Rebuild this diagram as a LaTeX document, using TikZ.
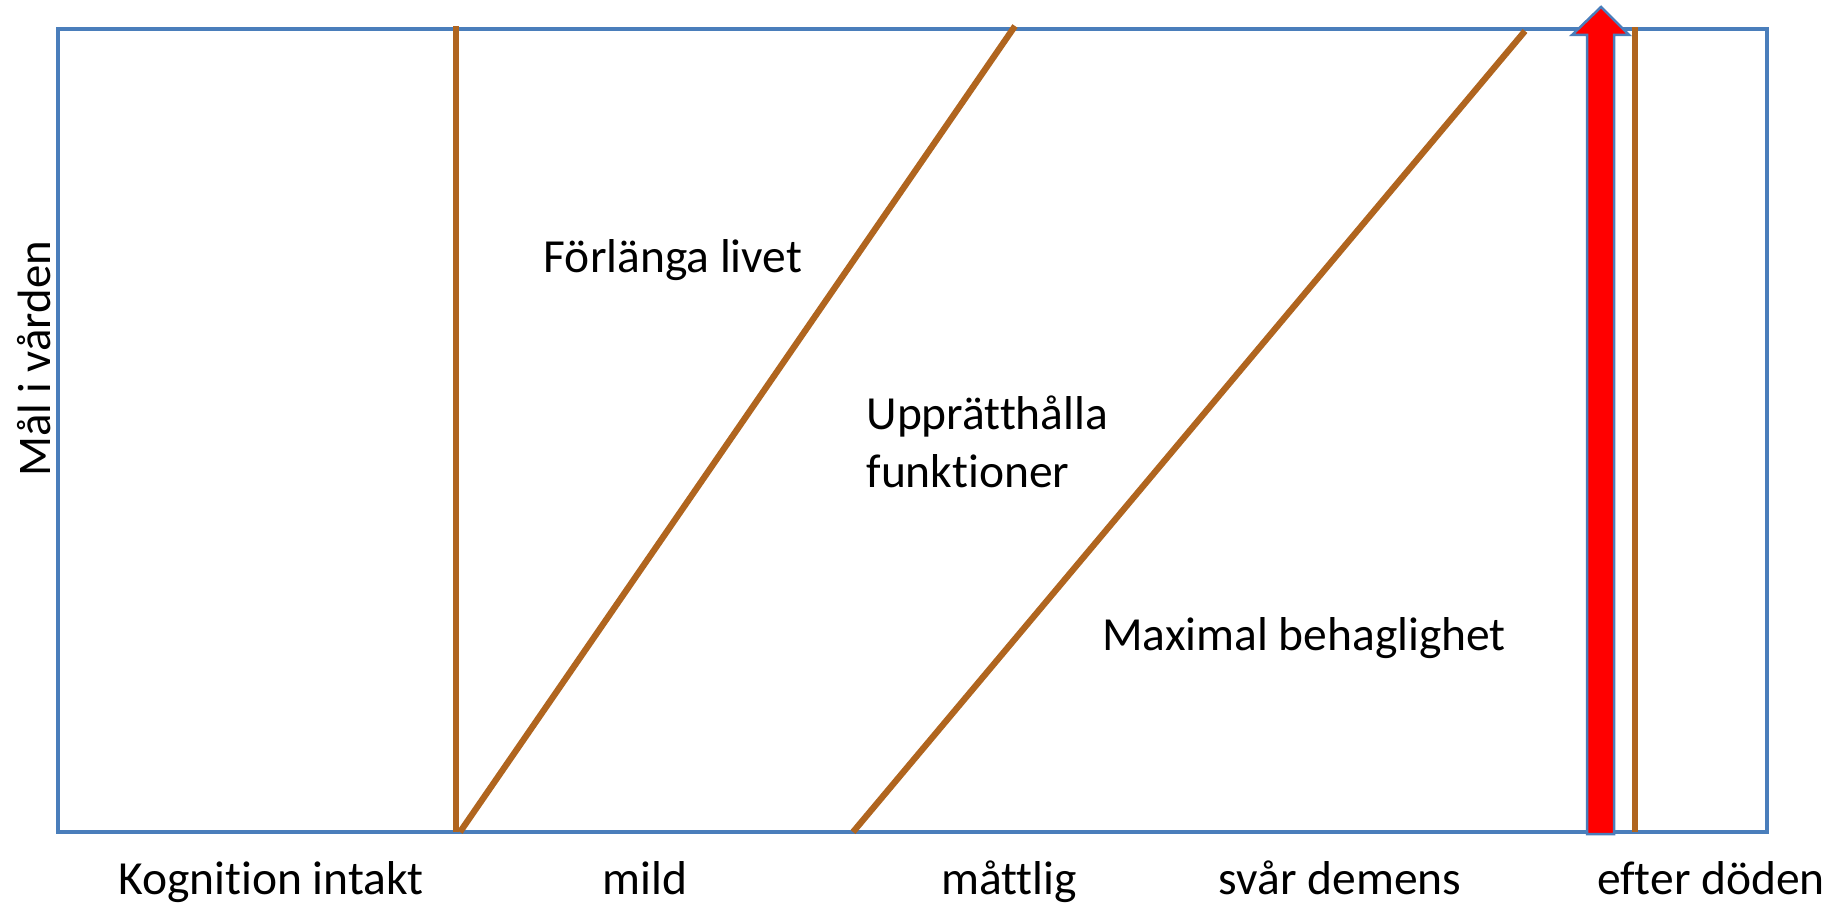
\documentclass[tikz,border=0pt]{standalone}
\usepackage{fontspec}
\setmainfont{Carlito}[Ligatures={NoCommon}]
\definecolor{frameblue}{HTML}{4A7EBB}
\definecolor{linebrown}{HTML}{B0651F}
\definecolor{arrowred}{HTML}{FF0000}
\begin{document}
\begin{tikzpicture}[x=0.4pt,y=-0.4pt,
  frame/.style={draw=frameblue,line width=1.3pt},
  stage/.style={draw=linebrown,line width=2.5pt},
  lbl/.style={inner sep=0pt,anchor=base,font=\fontsize{19pt}{22.8pt}\selectfont},
  ylbl/.style={inner sep=0pt,anchor=base,rotate=90,font=\fontsize{18.7pt}{22.4pt}\selectfont},
  bigarrow/.style={fill=arrowred,draw=frameblue,line width=1pt,line join=miter}
]
\useasboundingbox (0,0) rectangle (1831,904);
% frame corners
\coordinate (tl) at (58,29);
\coordinate (br) at (1767,832);
\draw[frame] (tl) rectangle (br);
% stage lines
\coordinate (v1t) at (456,26);
\coordinate (v1b) at (456,832);
\coordinate (d1b) at (460,832);
\coordinate (d1t) at (1015,26);
\coordinate (d2b) at (853,832);
\coordinate (d2t) at (1525,31);
\coordinate (v2t) at (1635,27);
\coordinate (v2b) at (1635,832);
\draw[stage] (v1b) -- (v1t);
\draw[stage] (d1b) -- (d1t);
\draw[stage] (d2b) -- (d2t);
\draw[stage] (v2b) -- (v2t);
% red arrow
\draw[bigarrow] (1587,834) -- (1587,35) -- (1572,35) -- (1601,7) -- (1629,35) -- (1614,35) -- (1614,834) -- cycle;
% labels
\node[lbl] (kog) at (271,894) {Kognition intakt};
\node[lbl] (mild) at (645,894) {mild};
\node[lbl] (matt) at (1009,894) {måttlig};
\node[lbl] (svar) at (1340,894) {svår demens};
\node[lbl] (efter) at (1711,894) {efter döden};
\node[lbl] (forl) at (673,273) {Förlänga livet};
\node[lbl,anchor=base west] (upp1) at (866,430) {Upprätthålla};
\node[lbl,anchor=base west] (upp2) at (866,488) {funktioner};
\node[lbl] (maxb) at (1304,650) {Maximal behaglighet};
\node[ylbl] (mal) at (50,359) {Mål i vården};
\end{tikzpicture}
\end{document}
